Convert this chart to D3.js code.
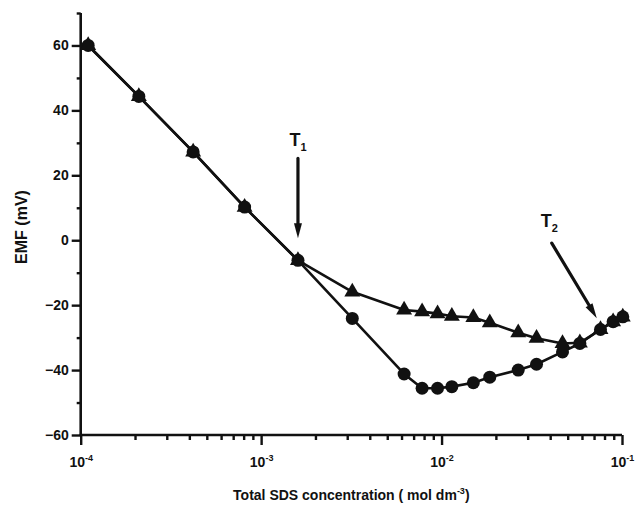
<!DOCTYPE html>
<html>
<head>
<meta charset="utf-8">
<script src="https://cdn.jsdelivr.net/npm/d3@7/dist/d3.min.js"></script>
<style>
  html, body { margin: 0; padding: 0; background: #fff; }
  svg text { font-family: "Liberation Sans", Arial, Helvetica, sans-serif; font-weight: bold; fill: #111; }
</style>
</head>
<body>
<svg id="chart" width="636" height="508"></svg>
<script>
// Total SDS concentration (mol dm^-3)
const concentration = [1.1e-4, 2.1e-4, 4.2e-4, 8.1e-4, 1.6e-3, 3.2e-3, 6.2e-3, 7.8e-3, 9.5e-3,
  1.14e-2, 1.5e-2, 1.85e-2, 2.66e-2, 3.36e-2, 4.68e-2, 5.84e-2, 7.6e-2, 8.93e-2, 1.01e-1];
// EMF (mV), triangle series
const emfTriangle = [60, 44.3, 27.2, 10.2, -6.2, -15.9, -21.5, -22.0, -22.6,
  -23.4, -23.8, -25.4, -28.5, -30.2, -31.8, -31.6, -27.5, -25.1, -23.6];
// EMF (mV), circle series
const emfCircle = [60, 44.3, 27.2, 10.2, -6.2, -24.1, -41.2, -45.6, -45.6,
  -45.1, -43.9, -42.2, -40.0, -38.2, -34.4, -31.8, -27.5, -25.1, -23.6];

const yMajorTicks = [-60, -40, -20, 0, 20, 40, 60];
const yMinorTicks = [-50, -30, -10, 10, 30, 50, 70];
const xMajorTicks = [1e-4, 1e-3, 1e-2, 1e-1];
const xTickExponents = ["-4", "-3", "-2", "-1"];

// Transition markers: label, subscript, arrow from/to and label anchor, all in (conc, emf)
const markers = [
  { label: "T", sub: "1", from: [1.6e-3, 25.2], to: [1.6e-3, 0.6], text: [1.6e-3, 29] },
  { label: "T", sub: "2", from: [4.08e-2, -0.9], to: [7.25e-2, -24], text: [3.95e-2, 4] }
];

const svg = d3.select("#chart");
const margin = { left: 80.7, top: 13, right: 14, bottom: 73 };
const W = 636, H = 508;

const x = d3.scaleLog().domain([1e-4, 1e-1]).range([margin.left, W - margin.right]);
const y = d3.scaleLinear().domain([-60, 70]).range([H - margin.bottom, margin.top]);

// Axes
const axisW = 2.6;
const yAxis = d3.axisLeft(y).tickValues(yMajorTicks).tickSize(9).tickPadding(3).tickFormat(d3.format("d"));
const yG = svg.append("g").attr("transform", `translate(${margin.left},0)`).call(yAxis);
yG.select(".domain").remove();
yG.selectAll(".tick line").attr("stroke", "#111").attr("stroke-width", 2.4);
yG.selectAll(".tick text").attr("font-size", 14).attr("fill", "#111")
  .attr("font-family", "Liberation Sans, Arial, sans-serif").attr("font-weight", "bold");

const yMinor = d3.axisLeft(y).tickValues(yMinorTicks).tickSize(4).tickFormat("");
const yMG = svg.append("g").attr("transform", `translate(${margin.left},0)`).call(yMinor);
yMG.select(".domain").remove();
yMG.selectAll(".tick line").attr("stroke", "#111").attr("stroke-width", 2.4);

// x minor ticks (2..9 in each decade)
const xMinorTicks = [];
[1e-4, 1e-3, 1e-2].forEach(d => { for (let k = 2; k <= 9; k++) xMinorTicks.push(d * k); });
const xMinor = d3.axisBottom(x).tickValues(xMinorTicks).tickSize(5).tickFormat("");
const xMG = svg.append("g").attr("transform", `translate(0,${y(-60)})`).call(xMinor);
xMG.select(".domain").remove();
xMG.selectAll(".tick line").attr("stroke", "#111").attr("stroke-width", 2.4);

const xAxis = d3.axisBottom(x).tickValues(xMajorTicks).tickSize(10).tickFormat("");
const xG = svg.append("g").attr("transform", `translate(0,${y(-60)})`).call(xAxis);
xG.select(".domain").remove();
xG.selectAll(".tick line").attr("stroke", "#111").attr("stroke-width", 2.4);
xG.selectAll(".tick").each(function (d, i) {
  const t = d3.select(this).append("text").attr("y", 32).attr("text-anchor", "middle")
    .attr("font-size", 14).attr("fill", "#111");
  t.append("tspan").text("10");
  t.append("tspan").attr("dy", -6).attr("font-size", 9).text(xTickExponents[i]);
});

// Axis lines
svg.append("line").attr("x1", margin.left).attr("x2", margin.left)
  .attr("y1", y(70)).attr("y2", y(-60) + 1)
  .attr("stroke", "#111").attr("stroke-width", axisW);
svg.append("line").attr("x1", margin.left - 1).attr("x2", x(1e-1))
  .attr("y1", y(-60)).attr("y2", y(-60))
  .attr("stroke", "#111").attr("stroke-width", axisW);

// Axis titles
svg.append("text").attr("transform", `translate(27,${(y(70) + y(-60)) / 2 + 3}) rotate(-90)`)
  .attr("text-anchor", "middle").attr("font-size", 16).text("EMF (mV)");
const xt = svg.append("text").attr("x", (x(1e-4) + x(1e-1)) / 2).attr("y", 500)
  .attr("text-anchor", "middle").attr("font-size", 14);
xt.append("tspan").text("Total SDS concentration ( mol dm");
xt.append("tspan").attr("dy", -6).attr("font-size", 9).text("-3");
xt.append("tspan").attr("dy", 6).text(")");

// Series
const line = d3.line().x(d => x(d[0])).y(d => y(d[1]));
const triData = concentration.map((c, i) => [c, emfTriangle[i]]);
const cirData = concentration.map((c, i) => [c, emfCircle[i]]);

[cirData, triData].forEach(data => {
  svg.append("path").datum(data).attr("d", line)
    .attr("fill", "none").attr("stroke", "#111").attr("stroke-width", 2.6)
    .attr("stroke-linejoin", "round");
});

svg.append("g").selectAll("circle").data(cirData).join("circle")
  .attr("cx", d => x(d[0])).attr("cy", d => y(d[1])).attr("r", 6.5).attr("fill", "#111");

const tri = d3.symbol().type(d3.symbolTriangle).size(110);
svg.append("g").selectAll("path").data(triData).join("path")
  .attr("d", tri).attr("transform", d => `translate(${x(d[0])},${y(d[1])})`)
  .attr("fill", "#111");

// Transition arrows and labels
markers.forEach(m => {
  const x1 = x(m.from[0]), y1 = y(m.from[1]);
  const x2 = x(m.to[0]), y2 = y(m.to[1]);
  const ang = Math.atan2(y2 - y1, x2 - x1);
  const headLen = 15, headHalf = 4;
  const bx = x2 - headLen * Math.cos(ang), by = y2 - headLen * Math.sin(ang);
  svg.append("line").attr("x1", x1).attr("y1", y1).attr("x2", bx).attr("y2", by)
    .attr("stroke", "#111").attr("stroke-width", 3.2).attr("stroke-linecap", "round");
  const px = -Math.sin(ang) * headHalf, py = Math.cos(ang) * headHalf;
  svg.append("path")
    .attr("d", `M${x2},${y2}L${bx + px},${by + py}L${bx - px},${by - py}Z`)
    .attr("fill", "#111");
  const t = svg.append("text").attr("x", x(m.text[0])).attr("y", y(m.text[1]))
    .attr("text-anchor", "middle").attr("font-size", 18);
  t.append("tspan").text(m.label);
  t.append("tspan").attr("dy", 5).attr("font-size", 11).text(m.sub);
});
</script>
</body>
</html>
